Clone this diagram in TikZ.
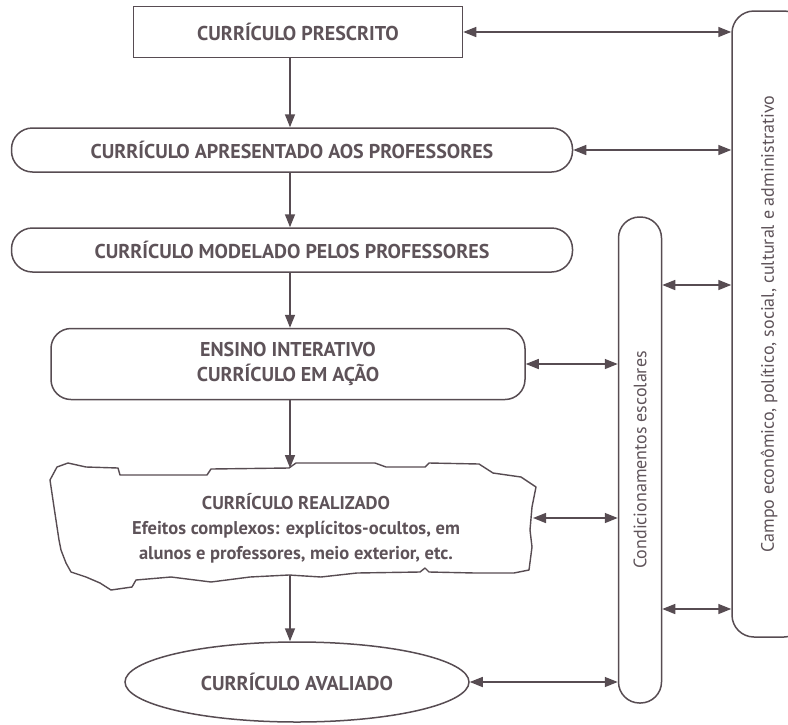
\documentclass[tikz,border=0pt]{standalone}
\usepackage{fontspec}
\setmainfont{PT Sans}
\usetikzlibrary{positioning, arrows.meta, shapes.geometric}

\definecolor{linegray}{HTML}{574C52}
\definecolor{textgray}{HTML}{5E5359}

\tikzset{
  box/.style={draw=linegray, line width=1.5pt, text=textgray, align=center,
    inner sep=0pt, font=\fontsize{20}{25}\selectfont\bfseries},
  pill/.style={box, rounded corners=21pt},
  side/.style={draw=linegray, line width=1.5pt, text=textgray, inner sep=0pt,
    font=\fontsize{18}{21}\selectfont},
  tear/.style={draw=linegray, line width=1.4pt, line join=round},
  flow/.style={color=linegray, line width=1.5pt, -{Triangle[length=13pt,width=10pt]}},
  link/.style={color=linegray, line width=1.5pt,
    {Triangle[length=13pt,width=10pt]}-{Triangle[length=13pt,width=10pt]}}
}

\begin{document}
\begin{tikzpicture}[x=1pt, y=-1pt]
  \useasboundingbox (0,0) rectangle (788,724);
  \coordinate (axis) at (290,0);

  \node[box, minimum width=329pt, minimum height=51pt] (pres) at (298,32) {CURRÍCULO PRESCRITO};
  \node[pill, minimum width=561pt, minimum height=44pt] (apres) at (292,150) {CURRÍCULO APRESENTADO AOS PROFESSORES};
  \node[pill, minimum width=561pt, minimum height=44pt] (mod) at (292,250) {CURRÍCULO MODELADO PELOS PROFESSORES};
  \node[box, rounded corners=20pt, minimum width=474pt, minimum height=71pt] (ens) at (288,364) {ENSINO INTERATIVO\\CURRÍCULO EM AÇÃO};
  \node[box, draw=none, font=\fontsize{18.5}{25}\selectfont\bfseries] (real) at (296,528) {CURRÍCULO REALIZADO\\Efeitos complexos: explícitos-ocultos, em\\alunos e professores, meio exterior, etc.};
  \node[box, ellipse, minimum width=344pt, minimum height=80pt] (aval) at (297,682) {CURRÍCULO AVALIADO};

  \node[side, rounded corners=21pt, minimum width=43pt, minimum height=486pt] (cond) at (640,460) {\rotatebox{90}{Condicionamentos escolares}};
  \node[side, rounded corners=22pt, minimum width=74pt, minimum height=626pt] (campo) at (769,324) {\rotatebox{90}{Campo econômico, político, social, cultural e administrativo}};

  % contorno rasgado
  \draw[tear] (50,480) -- (57,467) -- (68,463) -- (86,467) -- (118,468) -- (120,475)
    -- (207,475) -- (211,469) -- (289,468) -- (296,463) -- (375,463) -- (386,467)
    -- (425,467) -- (429,463) -- (479,464) -- (493,473) -- (521,477) -- (536,487)
    -- (532,507) -- (530,530) -- (532,547) -- (529,570) -- (514,573) -- (475,573)
    -- (429,572) -- (425,568) -- (420,572) -- (357,573) -- (321,577) -- (289,575)
    -- (250,577) -- (211,582) -- (171,577) -- (136,580) -- (132,587) -- (111,590)
    -- (100,583) -- (86,577) -- (71,572) -- (66,563) -- (61,550) -- (59,540)
    -- (54,507) -- cycle;
  \coordinate (realtop) at (290,468);
  \coordinate (realbot) at (290,575);
  \coordinate (realside) at (533,518);

  \path[flow]
  (pres.south -| axis) edge (apres.north -| axis)
  (apres.south -| axis) edge (mod.north -| axis)
  (mod.south -| axis) edge (ens.north -| axis)
  (ens.south -| axis) edge (realtop)
  (realbot) edge (aval.north -| axis);

  \path[link]
  (pres.east) edge (pres.east -| campo.west)
  (apres.east) edge (apres.east -| campo.west)
  ([yshift=175pt]cond.east) edge ([yshift=175pt]cond.east -| campo.west)
  ([yshift=-149pt]cond.east) edge ([yshift=-149pt]cond.east -| campo.west)
  (ens.east) edge (ens.east -| cond.west)
  (realside) edge (realside -| cond.west)
  (aval.east) edge (aval.east -| cond.west);
\end{tikzpicture}
\end{document}
